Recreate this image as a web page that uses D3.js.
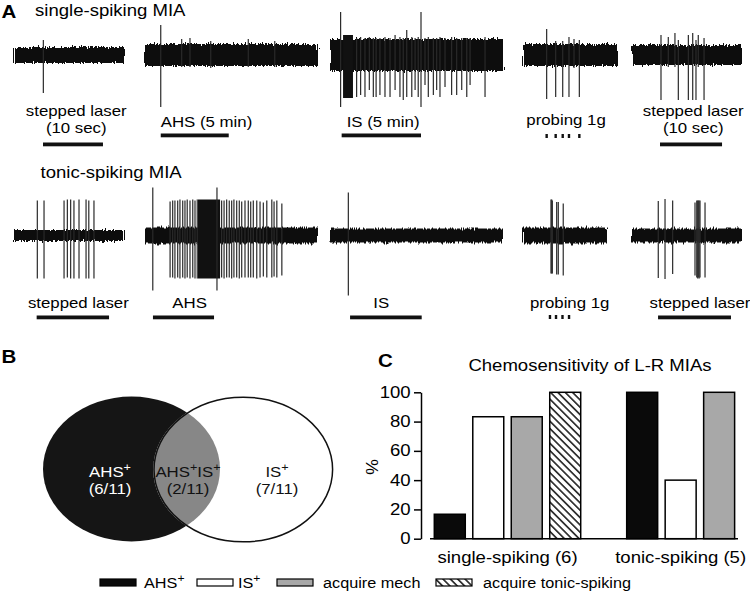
<!DOCTYPE html>
<html><head><meta charset="utf-8">
<script src="https://cdn.jsdelivr.net/npm/d3@7"></script>
<style>
body{margin:0;background:#fff}
svg{display:block;font-family:"Liberation Sans",Arial,Helvetica,sans-serif}
</style>
</head><body>
<svg id="fig" width="750" height="592"></svg>
<script>
// ================= DATA =================
// Panel A – extracellular recordings. Spikes: [time (% of sweep), upper tip, lower tip] (µV, arbitrary)
const ssTitle = "single-spiking MIA";
const tsTitle = "tonic-spiking MIA";
const ssLabels = [["stepped laser","(10 sec)"],["AHS (5 min)"],["IS (5 min)"],["probing 1g"],["stepped laser","(10 sec)"]];
const tsLabels = [["stepped laser"],["AHS"],["IS"],["probing 1g"],["stepped laser"]];
const ssNoise = [16, 22, 32, 22, 20];           // baseline noise half-amplitude per sweep
const tsNoise = [11, 16, 14, 16, 14];
const ssLaser1Spikes = [[26, 30, -76]];
const ssAHSSpikes = [[9.1, 60, -104], [21.2, 32, -24], [26.0, 34, -24], [38, 28, -26], [59.7, 32, -24], [75, 28, -24]];
const ssISSpikes = [[6.1, 86, -104], [52.3, 86, -104], [15.3, 34, -84], [17.6, 36, -80], [20.1, 34, -84], [22.6, 36, -70],
  [24.9, 34, -84], [26.5, 34, -84], [28.7, 34, -80], [31.6, 36, -84], [34.5, 34, -84], [37.4, 40, -70], [40.2, 36, -84],
  [42.1, 34, -90], [44.1, 50, -84], [47, 36, -84], [48.9, 34, -70], [50.7, 36, -84], [54.6, 34, -60], [56.5, 36, -84],
  [59.4, 34, -80], [61.3, 34, -70], [63.2, 36, -84], [66.1, 34, -64], [69.9, 36, -80], [72.8, 34, -80], [75.7, 34, -70],
  [78.6, 34, -84], [80.5, 34, -60], [89.1, 36, -84]];
const ssISBursts = [[7.5, 13.2, 40, -86]];       // dense firing: [start, end, top, bottom]
const ssProbeSpikes = [[24.9, 52, -88], [34.4, 28, -84], [41.8, 28, -84], [48.4, 36, -84], [53.7, 32, -26], [59.3, 30, -84]];
const ssLaser2Spikes = [[26.6, 40, -90], [33.3, 36, -24], [39.4, 44, -24], [42.5, 30, -90], [51.7, 40, -90], [55.7, 44, -90],
  [58.7, 30, -90], [60.8, 40, -24], [66.1, 34, -90]];
const tsLaser1Spikes = [[21.2, 70, -86], [27.3, 70, -86], [45.5, 70, -86], [48.5, 72, -84], [51.5, 72, -86], [54.5, 70, -86],
  [59.1, 72, -86], [65.5, 72, -86], [68, 70, -86], [72.7, 70, -86]];
const tsAHSSpikes = [[4.5, 96, -110], [41.6, 96, -110], [14.5, 68, -84], [16, 70, -84], [17.3, 70, -86], [18.9, 70, -84],
  [20.2, 72, -86], [21.8, 70, -84], [23.1, 70, -86], [24.4, 72, -84], [26, 70, -86], [27.6, 72, -84], [28.9, 70, -86],
  [30.2, 72, -86], [44.3, 70, -84], [45.7, 70, -86], [47.2, 72, -84], [48.7, 70, -84], [50.1, 70, -86], [51.4, 72, -84],
  [53, 70, -84], [54.5, 70, -86], [55.9, 68, -84], [57.8, 70, -84], [59.7, 70, -84], [61.1, 68, -84], [62.6, 70, -84],
  [64.6, 70, -86], [66.5, 68, -84], [68.4, 66, -82], [70.4, 70, -84], [73.3, 72, -84], [74.6, 68, -82], [76.2, 70, -84],
  [79.1, 64, -80]];
const tsAHSBursts = [[30.6, 43.4, 72, -86]];
const tsISSpikes = [[10.6, 86, -120]];
const tsProbeSpikes = [[33.3, 72, -76], [34.2, 72, -76], [34.9, 70, -76], [40.1, 67, -78], [42, 67, -78], [47.9, 64, -80]];
const tsLaser2Spikes = [[24.1, 69, -85], [30.3, 73, -87], [37.3, 70, -77], [57.8, 66, -80], [59.4, 70, -84], [60.3, 70, -86],
  [60.8, 70, -84], [61.6, 70, -86], [62.4, 70, -84], [67, 66, -84]];
// stimulus periods (% of sweep) and probe taps
const ssStim = [[25.7, 80.7], [9.1, 48.4], [6.7, 52.3], null, [25.7, 82.6]];
const ssProbeTaps = [24.9, 34.4, 41.8, 48.4, 59.3];
const tsStim = [[20.6, 86.4], [4.6, 39.9], [11.6, 53], null, [23.9, 90.8]];
const tsProbeTaps = [32.1, 39.3, 47, 54.8];

// Panel B – Venn
const vennNames = ["AHS+", "AHS+IS+", "IS+"];
const vennCounts = ["(6/11)", "(2/11)", "(7/11)"];

// Panel C – bars (%)
const cTitle = "Chemosensitivity of L-R MIAs";
const groups = ["single-spiking (6)", "tonic-spiking (5)"];
const seriesNames = ["AHS+", "IS+", "acquire mech", "acquire tonic-spiking"];
const ahsPos = [16.7, 100];
const isPos = [83.3, 40];
const acqMech = [83.3, 100];
const acqTonic = [100, null];
const yTicks = [0, 20, 40, 60, 80, 100];

// ================= DRAW =================
const svg = d3.select("#fig");
const SX = 1.16;  // horizontal text stretch of the original figure
const defs = svg.append("defs");
const flt = defs.append("filter").attr("id", "noise").attr("x", "-2%").attr("y", "-60%").attr("width", "104%").attr("height", "220%");
flt.append("feTurbulence").attr("type", "fractalNoise").attr("baseFrequency", "0.9 0.03").attr("numOctaves", 2).attr("seed", 3).attr("result", "t");
flt.append("feDisplacementMap").attr("in", "SourceGraphic").attr("in2", "t").attr("scale", 6).attr("xChannelSelector", "R").attr("yChannelSelector", "G");
const hatch = defs.append("pattern").attr("id", "hatch").attr("patternUnits", "userSpaceOnUse")
  .attr("width", 5.2).attr("height", 5.2).attr("patternTransform", "rotate(45)");
hatch.append("rect").attr("width", 5.2).attr("height", 5.2).attr("fill", "#fff");
hatch.append("line").attr("x1", 0).attr("x2", 5.2).attr("y1", 2.6).attr("y2", 2.6).attr("stroke", "#000").attr("stroke-width", 1.4);

function label(g, x, y, str, size, anchor, weight, fill) {
  const t = g.append("text").attr("transform", `translate(${x},${y}) scale(${SX},1)`)
    .attr("font-size", size).attr("text-anchor", anchor || "start")
    .attr("font-weight", weight || "normal").attr("fill", fill || "#000");
  const parts = str.split(/(\+)/).filter(s => s.length);
  let shifted = false;
  parts.forEach(p => {
    const ts = t.append("tspan").text(p);
    if (p === "+") { ts.attr("font-size", size * 0.75).attr("dy", -size * 0.42); shifted = true; }
    else if (shifted) { ts.attr("dy", size * 0.42); shifted = false; }
  });
  return t;
}

// ---- Panel A ----
const gA = svg.append("g");
label(gA, 1, 17.5, "A", 19, "start", "bold").attr("transform", "translate(1.5,17.5) scale(1.08,1)");
label(gA, 35, 15.5, ssTitle, 16);
label(gA, 40.5, 178, tsTitle, 16);

const rows = [
  { y: d3.scaleLinear().domain([-100, 100]).range([105, 5]),
    xr: [[15, 124], [145, 318], [330, 504], [523, 618], [632, 741]],
    noise: ssNoise, spikes: [ssLaser1Spikes, ssAHSSpikes, ssISSpikes, ssProbeSpikes, ssLaser2Spikes],
    bursts: [[], [], ssISBursts, [], []], stim: ssStim, taps: ssProbeTaps, labels: ssLabels,
    stimY: [142.5, 133.5, 133.5, 134, 142.5],
    labelPos: [[56.2, "middle"], [9.1, "start"], [9.6, "start"], [45.3, "middle"], [56.2, "middle"]],
    labelY: [[116, 133], [127], [127], [125], [116, 133]] },
  { y: d3.scaleLinear().domain([-100, 100]).range([285.5, 185.5]),
    xr: [[14, 124], [145, 318], [330, 503], [523, 607], [632, 741]],
    noise: tsNoise, spikes: [tsLaser1Spikes, tsAHSSpikes, tsISSpikes, tsProbeSpikes, tsLaser2Spikes],
    bursts: [[], tsAHSBursts, [], [], []], stim: tsStim, taps: tsProbeTaps, labels: tsLabels,
    stimY: [315.5, 315.5, 315.5, 315, 315.5],
    labelPos: [[58.5, "middle"], [25.8, "middle"], [25, "start"], [55.6, "middle"], [62.4, "middle"]],
    labelY: [[308], [308], [308], [308], [308]] }
];

rows.forEach(row => {
  row.xr.forEach((r, i) => {
    const x = d3.scaleLinear().domain([0, 100]).range(r);
    const y = row.y;
    const g = gA.append("g");
    g.append("rect").attr("x", x(0)).attr("width", x(100) - x(0))
      .attr("y", y(row.noise[i])).attr("height", y(-row.noise[i]) - y(row.noise[i]))
      .attr("fill", "#111").attr("filter", "url(#noise)");
    g.selectAll(".burst").data(row.bursts[i]).join("rect")
      .attr("x", d => x(d[0])).attr("width", d => x(d[1]) - x(d[0]))
      .attr("y", d => y(d[2])).attr("height", d => y(d[3]) - y(d[2])).attr("fill", "#111");
    g.selectAll(".spk").data(row.spikes[i]).join("line")
      .attr("x1", d => x(d[0])).attr("x2", d => x(d[0]))
      .attr("y1", d => y(d[1])).attr("y2", d => y(d[2]))
      .attr("stroke", "#2a2a2a").attr("stroke-width", 1.2);
    const s = row.stim[i];
    if (s) {
      g.append("rect").attr("x", x(s[0])).attr("width", x(s[1]) - x(s[0]))
        .attr("y", row.stimY[i]).attr("height", 3.8).attr("fill", "#111");
    } else {
      g.selectAll(".tap").data(row.taps).join("rect")
        .attr("x", d => x(d) - 1.2).attr("width", 2.4)
        .attr("y", row.stimY[i]).attr("height", 4).attr("fill", "#111");
    }
    row.labels[i].forEach((txt, k) => {
      label(g, x(row.labelPos[i][0]), row.labelY[i][k], txt, 14.5, row.labelPos[i][1]);
    });
  });
});

// ---- Panel B ----
const gB = svg.append("g");
label(gB, 1, 363, "B", 19, "start", "bold").attr("transform", "translate(1.5,363) scale(1.08,1)");
const ellA = { cx: 131.5, cy: 469, rx: 88.5, ry: 72.5 };
const ellB = { cx: 243.3, cy: 469.5, rx: 90, ry: 73 };
defs.append("clipPath").attr("id", "clipA").append("ellipse").attr("cx", ellA.cx).attr("cy", ellA.cy).attr("rx", ellA.rx).attr("ry", ellA.ry);
gB.append("ellipse").attr("cx", ellA.cx).attr("cy", ellA.cy).attr("rx", ellA.rx).attr("ry", ellA.ry).attr("fill", "#151515");
gB.append("ellipse").attr("cx", ellB.cx).attr("cy", ellB.cy).attr("rx", ellB.rx).attr("ry", ellB.ry).attr("fill", "#fff");
gB.append("ellipse").attr("cx", ellB.cx).attr("cy", ellB.cy).attr("rx", ellB.rx).attr("ry", ellB.ry)
  .attr("fill", "#878787").attr("clip-path", "url(#clipA)");
gB.append("ellipse").attr("cx", ellB.cx).attr("cy", ellB.cy).attr("rx", ellB.rx - 0.7).attr("ry", ellB.ry - 0.7)
  .attr("fill", "none").attr("stroke", "#111").attr("stroke-width", 1.5);
const vennX = [110, 188, 277];
const vennFill = ["#fff", "#111", "#111"];
vennNames.forEach((n, i) => {
  label(gB, vennX[i], 477, n, 14.5, "middle", "normal", vennFill[i]);
  label(gB, vennX[i], 494, vennCounts[i], 14.5, "middle", "normal", vennFill[i]);
});

// ---- Panel C ----
const gC = svg.append("g");
label(gC, 378, 367, "C", 19, "start", "bold").attr("transform", "translate(378,367) scale(1.08,1)");
label(gC, 590, 371, cTitle, 16, "middle");
const y = d3.scaleLinear().domain([0, 100]).range([538.7, 392.3]);
const x0 = d3.scaleBand().domain(groups).range([434.3, 773.1]).paddingInner(0.239).paddingOuter(0);
const x1 = d3.scaleBand().domain(seriesNames).range([0, x0.bandwidth()]).paddingInner(0.195).paddingOuter(0);
const fills = ["#0a0a0a", "#fff", "#a8a8a8", "url(#hatch)"];
const color = d3.scaleOrdinal().domain(seriesNames).range(fills);
const seriesVals = [ahsPos, isPos, acqMech, acqTonic];
const barData = [];
groups.forEach((g, gi) => seriesNames.forEach((s, si) => {
  if (seriesVals[si][gi] != null) barData.push({ g, s, v: seriesVals[si][gi] });
}));
gC.selectAll(".bar").data(barData).join("rect")
  .attr("x", d => x0(d.g) + x1(d.s)).attr("width", x1.bandwidth())
  .attr("y", d => y(d.v)).attr("height", d => y(0) - y(d.v))
  .attr("fill", d => color(d.s)).attr("stroke", "#000").attr("stroke-width", 1.5);
const yAxis = gC.append("g").attr("transform", "translate(421,0)")
  .call(d3.axisLeft(y).tickValues(yTicks).tickSize(7).tickSizeOuter(0).tickPadding(2));
yAxis.select(".domain").attr("stroke-width", 1.5);
yAxis.selectAll(".tick line").attr("stroke-width", 1.5);
yAxis.selectAll(".tick text").attr("font-size", 16).attr("font-family", "Liberation Sans, Arial, sans-serif")
  .attr("transform", `scale(${SX},1)`).attr("fill", "#000");
gC.append("line").attr("x1", 430).attr("x2", 738).attr("y1", y(0)).attr("y2", y(0)).attr("stroke", "#000").attr("stroke-width", 1.5);
groups.forEach((g, gi) => {
  const present = barData.filter(d => d.g === g);
  const cx = d3.mean(present, d => x0(d.g) + x1(d.s) + x1.bandwidth() / 2);
  label(gC, cx, 563, g, 16, "middle");
});
gC.append("text").attr("transform", `translate(378,467) rotate(-90) scale(1.1,1)`)
  .attr("text-anchor", "middle").attr("font-size", 16).text("%");

const legX = [100, 197, 277, 436];
const legTx = [144, 238, 323, 483];
seriesNames.forEach((s, i) => {
  gC.append("rect").attr("x", legX[i]).attr("y", 579).attr("width", 36).attr("height", 7)
    .attr("fill", color(s)).attr("stroke", "#000").attr("stroke-width", 1.2);
  label(gC, legTx[i], 588, s, 14, "start");
});
</script>
</body></html>
